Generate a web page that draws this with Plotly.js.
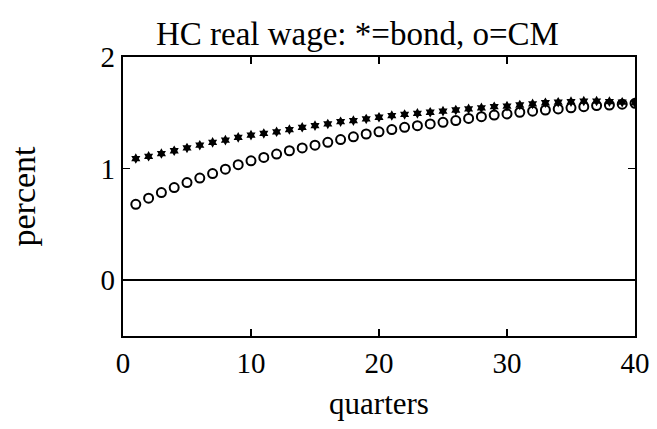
<!DOCTYPE html>
<html>
<head>
<meta charset="utf-8">
<script src="https://cdn.plot.ly/plotly-3.0.1.min.js"></script>
<style>
  html, body { margin: 0; padding: 0; background: #fff; }
  #chart { width: 657px; height: 429px; }
</style>
</head>
<body>
<div id="chart"></div>
<script>
var quarters = [1,2,3,4,5,6,7,8,9,10,11,12,13,14,15,16,17,18,19,20,21,22,23,24,25,26,27,28,29,30,31,32,33,34,35,36,37,38,39,40];
var bond = [1.09,1.11,1.135,1.16,1.185,1.21,1.235,1.255,1.28,1.30,1.315,1.33,1.35,1.37,1.385,1.40,1.42,1.43,1.445,1.46,1.475,1.485,1.495,1.505,1.515,1.525,1.535,1.545,1.555,1.56,1.57,1.58,1.59,1.595,1.60,1.605,1.605,1.60,1.595,1.59];
var cm = [0.68,0.735,0.785,0.83,0.875,0.915,0.955,0.995,1.035,1.07,1.10,1.13,1.16,1.185,1.21,1.235,1.26,1.285,1.31,1.33,1.35,1.37,1.385,1.40,1.415,1.43,1.45,1.465,1.48,1.49,1.505,1.515,1.525,1.535,1.545,1.555,1.565,1.57,1.577,1.585];
var xTicks = [0,10,20,30,40];
var yTicks = [0,1,2];

var serif = "Liberation Serif, Times New Roman, serif";

var traces = [
  {x: quarters, y: cm, mode: "markers", type: "scatter", name: "CM",
   marker: {symbol: "circle-open", size: 9, color: "#000", line: {width: 2, color: "#000"}}},
  {x: quarters, y: bond, mode: "markers", type: "scatter", name: "bond",
   marker: {symbol: "hexagram", size: 8, color: "#000", line: {width: 0}}}
];

var layout = {
  width: 657, height: 429,
  margin: {l: 123, r: 22, t: 57, b: 93},
  paper_bgcolor: "#fff", plot_bgcolor: "#fff",
  showlegend: false,
  title: {text: "HC real wage: *=bond, o=CM", font: {family: serif, size: 33, color: "#000"},
          x: 0.544, xref: "container", xanchor: "center", y: 1, yref: "paper", yanchor: "bottom", pad: {b: 12}},
  xaxis: {range: [0, 40], tickvals: xTicks, ticktext: xTicks.map(String),
          showgrid: false, zeroline: false, showline: true, linecolor: "#000", linewidth: 2.2,
          mirror: "ticks", ticks: "inside", ticklen: 7, tickwidth: 1.5, tickcolor: "#000",
          tickfont: {family: serif, size: 29, color: "#000"},
          title: {text: "quarters", font: {family: serif, size: 31, color: "#000"}, standoff: 14}},
  yaxis: {range: [-0.5, 2], tickvals: yTicks, ticktext: yTicks.map(String),
          showgrid: false, zeroline: true, zerolinecolor: "#000", zerolinewidth: 1.8,
          showline: true, linecolor: "#000", linewidth: 2.2,
          mirror: "ticks", ticks: "inside", ticklen: 7, tickwidth: 1.5, tickcolor: "#000",
          tickfont: {family: serif, size: 29, color: "#000"},
          title: {text: "percent", font: {family: serif, size: 34, color: "#000"}, standoff: 55}}
};

Plotly.newPlot("chart", traces, layout, {staticPlot: true, displayModeBar: false});
</script>
</body>
</html>
